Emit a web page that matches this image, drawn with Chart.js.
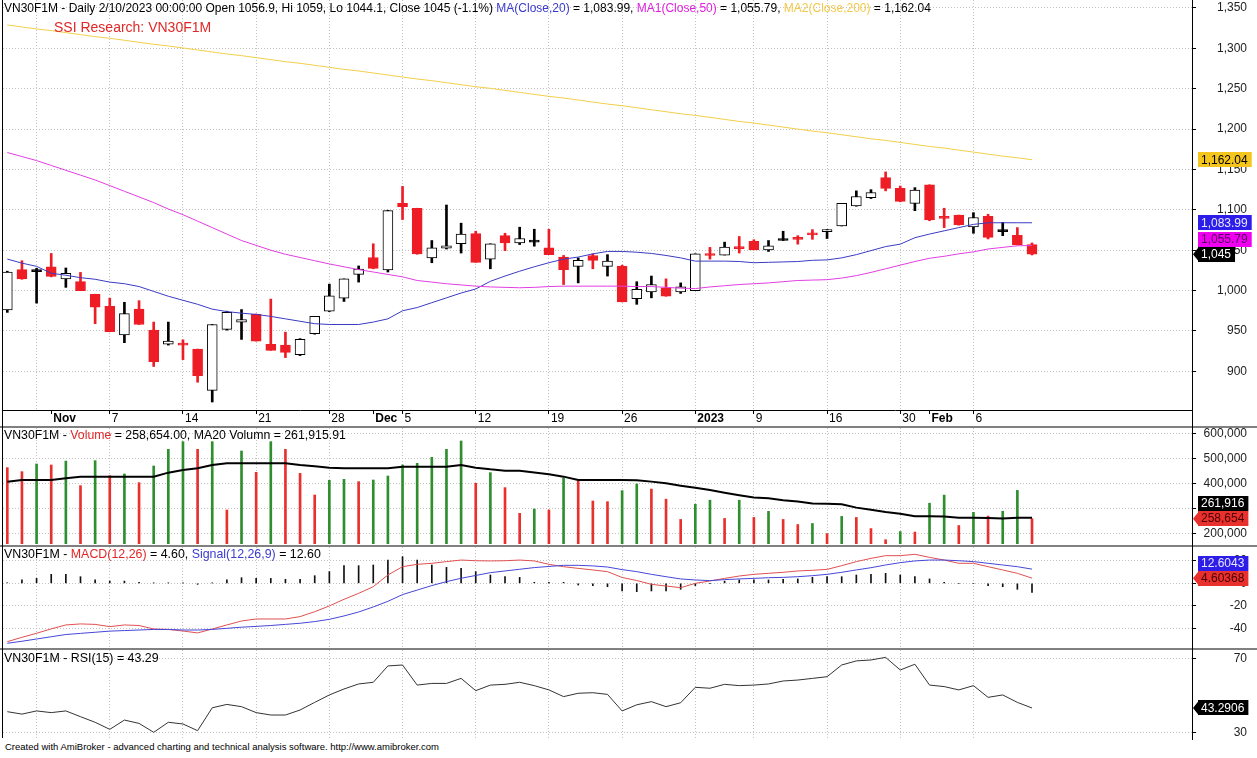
<!DOCTYPE html>
<html>
<head>
<meta charset="utf-8">
<script src="https://cdn.jsdelivr.net/npm/chart.js@4.4.0/dist/chart.umd.min.js"></script>
<style>
  body { margin:0; background:#fff; width:1257px; height:758px; overflow:hidden; position:relative;
         font-family:"Liberation Sans", Arial, sans-serif; }
  canvas { position:absolute; left:0; }
  .t { position:absolute; white-space:pre; font-size:12px; line-height:14px; color:#000; }
  .sep { position:absolute; left:0; width:1257px; height:2px; background:#808080; }
  .vl { position:absolute; width:1px; background:#000; }
</style>
</head>
<body>
<canvas id="cPrice" width="1257" height="426" style="top:0"></canvas>
<canvas id="cVol" width="1257" height="116" style="top:428px"></canvas>
<canvas id="cMacd" width="1257" height="101" style="top:547px"></canvas>
<canvas id="cRsi" width="1257" height="88" style="top:650px"></canvas>

<div class="sep" style="top:426px"></div>
<div class="sep" style="top:545px"></div>
<div class="sep" style="top:648px"></div>
<div class="vl" style="left:2px;top:0;height:738px"></div>
<div class="vl" style="left:1192px;top:0;height:740px"></div>

<div class="t" style="left:4px;top:1px">VN30F1M - Daily 2/10/2023 00:00:00 Open 1056.9, Hi 1059, Lo 1044.1, Close 1045 (-1.1%) <span style="color:#3a3ad0">MA(Close,20)</span> = 1,083.99, <span style="color:#e020e0">MA1(Close,50)</span> = 1,055.79, <span style="color:#f2c94c">MA2(Close,200)</span> = 1,162.04</div>
<div class="t" style="left:54px;top:19px;font-size:14px;line-height:16px;color:#e02828">SSI Research: VN30F1M</div>
<div class="t" style="left:4px;top:428px;font-size:12.3px">VN30F1M - <span style="color:#e02828">Volume</span> = 258,654.00, MA20 Volumn = 261,915.91</div>
<div class="t" style="left:4px;top:547px;font-size:12.4px">VN30F1M - <span style="color:#e02828">MACD(12,26)</span> = 4.60, <span style="color:#3a3ad0">Signal(12,26,9)</span> = 12.60</div>
<div class="t" style="left:4px;top:651px;font-size:12.4px">VN30F1M - RSI(15) = 43.29</div>
<div class="t" style="left:5px;top:741px;font-size:9.5px;line-height:11px">Created with AmiBroker - advanced charting and technical analysis software. http://www.amibroker.com</div>

<script>
(function(){
  const dates = ["2022-10-27","2022-10-28","2022-10-31","2022-11-01","2022-11-02","2022-11-03","2022-11-04",
    "2022-11-07","2022-11-08","2022-11-09","2022-11-10","2022-11-11","2022-11-14","2022-11-15","2022-11-16",
    "2022-11-17","2022-11-18","2022-11-21","2022-11-22","2022-11-23","2022-11-24","2022-11-25","2022-11-28",
    "2022-11-29","2022-11-30","2022-12-01","2022-12-02","2022-12-05","2022-12-06","2022-12-07","2022-12-08",
    "2022-12-09","2022-12-12","2022-12-13","2022-12-14","2022-12-15","2022-12-16","2022-12-19","2022-12-20",
    "2022-12-21","2022-12-22","2022-12-23","2022-12-26","2022-12-27","2022-12-28","2022-12-29","2022-12-30",
    "2023-01-03","2023-01-04","2023-01-05","2023-01-06","2023-01-09","2023-01-10","2023-01-11","2023-01-12",
    "2023-01-13","2023-01-16","2023-01-17","2023-01-18","2023-01-19","2023-01-27","2023-01-30","2023-01-31",
    "2023-02-01","2023-02-02","2023-02-03","2023-02-06","2023-02-07","2023-02-08","2023-02-09","2023-02-10"];

  const open = [976,1026,1023.5,1029.5,1014.5,1011,995.5,980.5,945,977,
    951,933.5,933.5,927.5,876.5,952,961,970.5,933.5,932.5,
    920.5,946.5,974.5,990.5,1020,1041,1025.5,1108,1102,1040.5,
    1052.5,1058,1070.5,1039,1068,1059,1060,1053,1041.5,1030,
    1043.5,1030,1030,990,998.5,1003.5,998.5,1000,1045.5,1044,
    1053.5,1061,1050.5,1062,1065,1070.5,1073,1080,1105,1115,
    1140,1126.5,1108,1131,1090.5,1093.5,1079,1092,1073,1068.5,
    1056.9];
  const high = [1024,1037,1027.5,1046,1028,1022.5,995.5,990.5,985.5,987.5,
    961,961,939,927.5,958,974.5,976.5,971,989.5,948.5,
    940.5,968,1008,1014.5,1030.5,1058,1099.5,1129,1102,1062,
    1106,1083.5,1073.5,1058,1071,1078.5,1076,1076,1043.5,1040.5,
    1045.5,1044.5,1031.5,1011,1018,1014.5,1009.5,1045.5,1053.5,1060,
    1067,1063,1062,1073.5,1068,1075.5,1075.5,1108,1123.5,1125,
    1147,1129.5,1127.5,1131,1102,1093.5,1096.5,1094.5,1084.5,1078,
    1059];
  const low = [973,1014,984.5,1017,1004,1000,959,949,935.5,958,
    906,932.5,914.5,886.5,862,951,939.5,937.5,926,917,
    919.5,946,974,986.5,1010.5,1027,1023,1088,1045,1034.5,
    1051.5,1046.5,1035,1027,1049.5,1057,1055,1044.5,1007.5,1009.5,
    1027,1018,986,983,991,993,996.5,1000,1039,1044,
    1046.5,1050.5,1048.5,1062,1057.5,1063.5,1064.5,1080,1104.5,1114,
    1123.5,1110,1099,1086.5,1078,1081,1071,1064,1068,1056.5,
    1044.1];
  const close = [1023,1014.5,1023.5,1017.5,1021.5,1000,979.5,949,971.5,958,
    912,937.5,932.5,894.5,958,973,964,937.5,926,923.5,
    939.5,968,993.5,1014.5,1026.5,1027.5,1099,1104,1045.5,1053,
    1055.5,1070,1035,1058,1059,1064.5,1060,1044.5,1026,1037.5,
    1037.5,1036.5,986,1001.5,1007.5,993,1004.5,1045.5,1043.5,1054,
    1052,1050.5,1055.5,1062,1063.5,1069,1075,1108,1116.5,1121.5,
    1126.5,1110.5,1124.5,1087.5,1089.5,1081.5,1090.5,1066,1073,1057,
    1045];

  const ma20 = [1039,1034,1030,1021.5,1019,1016,1014,1010.5,1008.5,1005,
    999,993,988,983,977,974,972,970.5,968,965,
    962,959,958,958,958,961,965,975,979,985,
    991,997,1002,1011.5,1018,1024,1029.5,1034.5,1039,1041.5,
    1045.5,1048.5,1048.5,1047.5,1046,1043.5,1040.5,1036.5,1036.5,1036.5,
    1036,1034.5,1035,1035.5,1036,1037.5,1038,1040.5,1044.5,1049.5,
    1054.5,1057.5,1065.5,1070,1074,1078,1082,1084,1084,1084,
    1083.99];
  const ma50 = [1171,1166,1161,1155,1149,1143,1137,1130,1123,1116,
    1109,1101,1094,1086,1078,1070,1062,1056,1050,1045,
    1041,1037,1033,1029.5,1026,1023,1020,1017,1012.5,1010.5,
    1008.5,1007,1005.5,1004.5,1004,1003.5,1004,1005,1005.5,1005.5,
    1005.5,1005.5,1005.5,1005,1005,1004,1003,1002.5,1004.5,1006,
    1007.5,1008.5,1009.5,1011,1012.5,1013,1013.5,1015.5,1018.5,1022.5,
    1027,1031.5,1036,1040,1042.5,1045.5,1048,1051.5,1053.5,1055.5,
    1055.79];
  const ma200 = [1329,1326.5,1324,1322,1319.5,1317,1314.5,1312.5,1310,1307.5,
    1305,1303,1300.5,1298,1295.5,1293,1291,1288.5,1286,1283.5,
    1281.5,1279,1276.5,1274,1272,1269.5,1267,1264.5,1262,1260,
    1257.5,1255,1252.5,1250.5,1248,1245.5,1243,1240.5,1238.5,1236,
    1233.5,1231,1229,1226.5,1224,1221.5,1219,1217,1214.5,1212,
    1209.5,1207.5,1205,1202.5,1200,1197.5,1195.5,1193,1190.5,1188,
    1186,1183.5,1181,1178.5,1176.5,1174,1171.5,1169,1166.5,1164.5,
    1162.04];

  const volume = [462700,446700,477300,473300,489000,390700,490700,430700,437300,402700,
    469300,536000,566700,536000,566700,293300,529300,444000,566700,536000,
    440000,353300,412000,416000,406700,413300,429300,473300,480000,504000,
    536000,569300,400000,442700,382700,280000,297300,293300,420000,410700,
    329300,326700,370700,397300,377000,336600,255500,316300,332500,259500,
    332500,263600,287900,255500,235200,239300,198800,267700,263600,219000,
    174400,207000,205000,320300,352800,231200,283900,269000,287900,371700,
    258654];
  const volMa20 = [406700,413000,413000,413000,420000,426700,426700,426700,426700,426700,
    426700,442700,453000,460000,473000,480000,480000,480000,480000,480000,
    473000,468000,462700,460000,460000,460000,460000,466700,466700,466700,
    466700,473000,462700,456000,450700,450000,443000,436000,426700,413000,
    413000,413000,413500,412000,406800,400000,390600,382500,373000,362000,
    352000,343300,340000,332500,327000,319000,318000,316300,302800,294700,
    285200,278500,268000,268000,267700,262000,262000,261000,259000,262000,
    261915.91];

  const macd = [-51.9,-48,-44.4,-40.5,-37,-36.1,-36.5,-38.5,-37,-37.5,
    -40.6,-41,-42.4,-44.1,-40.6,-37,-33.5,-31.7,-31.7,-31.7,
    -29.6,-25.2,-20.1,-14.2,-8.9,-3,7.4,14.8,16.9,17.8,
    19.3,20.7,20.1,19.9,20.1,20.7,19.9,16.9,14.8,13.3,
    11.9,10.4,5.2,2.5,-0.9,-2.4,-3.9,0,2.1,4.4,
    6.5,8,8.9,9.8,11,11.6,12.4,15.7,19.3,22.2,
    24.6,24.6,25.8,23.1,20.7,17.8,17.8,14.8,11.9,8.9,
    4.60368];
  const signal = [-53.3,-51.5,-49.5,-47.5,-45.5,-44.5,-43.5,-42.5,-42,-41.5,
    -41,-41,-41.5,-41.5,-41,-40,-39,-38.3,-37.5,-36.5,
    -35.5,-34,-32,-29,-25.5,-21,-16,-10,-6,-2,
    1.5,4.5,7,9.5,11,12.5,14,15,16,16,
    15.5,14.5,12.2,10.4,8,5.9,3.9,3,2.4,3.3,
    3.9,4.4,5,5.3,5.9,6.8,8,9.8,11.9,13.9,
    16.3,18.4,19.9,20.7,20.7,20.1,19.3,17.8,16.3,14.8,
    12.6043];
  const macdHist = [0.5,3,4.4,8,8,5.9,3,2,2,0.9,
    0.3,0.3,0.3,-0.9,0.3,3,5,4.4,4.4,3.6,
    3.6,6.8,10.4,15.7,15.7,16.3,20.7,23.7,20.7,16.3,
    14.2,13.3,10.4,7.4,5.9,5.3,0.9,0.9,0.9,-1.5,
    -2,-3,-6.8,-7.4,-6.8,-6.8,-5.3,-2,0,2,
    3,3,3,3.6,3.9,5.3,5.9,5.9,7.4,8,
    8.9,7.4,5.9,3.9,0.9,0,0,-2,-3,-5.3,
    -8];
  const rsi = [41.3,40,41.7,40.8,41.7,38.6,35.6,31.8,36.8,35,
    30.2,35.6,34.7,31.1,43.4,45.2,44,40.8,39.5,39.5,
    42.2,46.3,50.3,53.5,56.2,57.1,65.9,66.4,55.6,56.5,
    56.5,59.2,52.6,55.6,56,57.1,55.3,53,49.4,51.2,
    51.5,50.6,41.7,45,46.7,44,46.1,54.4,53.9,56,
    55.3,55.6,56.2,57.8,58.3,59.2,60.1,66.4,68.6,69.1,
    70.5,63.7,66.8,55.6,54.8,53,55.3,49,50.3,46.3,
    43.2906];

  // date axis: labelled bars, month starts (bold) and weekly grid bars
  const tickIdx  = [3,7,12,17,22,25,27,32,37,42,47,51,56,61,63,66];
  const tickText = ["Nov","7","14","21","28","Dec","5","12","19","26","2023","9","16","30","Feb","6"];
  const monthIdx = [3,25,47,63];
  const gridIdx  = [2,7,12,17,22,27,32,37,42,47,51,56,61,66];

  const priceTicks = [900,950,1000,1050,1100,1150,1200,1250,1300,1350];
  const volTicks = [200000,300000,400000,500000,600000];
  const macdTicks = [-40,-20,0,20];
  const rsiTicks = [30,70];

  const FONT = '"Liberation Sans", Arial, sans-serif';
  const GRID = "#c2c2c2";
  const RED = "#ee1c24";
  const X_MIN = -0.294, X_MAX = 80.93;

  Chart.defaults.font.family = FONT;
  Chart.defaults.font.size = 12;
  Chart.defaults.color = "#000";

  const xy = arr => arr.map((v,i) => ({x:i, y:v}));
  const fmt6 = v => Number(v.toPrecision(6)).toLocaleString("en-US", {maximumFractionDigits:6});
  const last = arr => arr[arr.length-1];
  const noPad = s => { s.paddingTop = 0; s.paddingBottom = 0; s.paddingLeft = 0; s.paddingRight = 0; };

  const allTicks = Array.from(new Set(tickIdx.concat(gridIdx))).sort((a,b)=>a-b);

  function xScale(showLabels){
    return {
      type:"linear", position:"bottom", min:X_MIN, max:X_MAX, offset:false,
      afterBuildTicks(s){ s.ticks = allTicks.map(v => ({value:v})); },
      afterFit(s){ s.height = showLabels ? 16 : 0; noPad(s); },
      grid:{
        offset:false,
        color: c => (c.tick && gridIdx.includes(c.tick.value)) ? GRID : "rgba(0,0,0,0)",
        drawTicks: showLabels, tickLength:4,
        tickColor: c => (c.tick && tickIdx.includes(c.tick.value)) ? "#000" : "rgba(0,0,0,0)"
      },
      border:{ display:showLabels, color:"#000", dash:[1,2] },
      ticks:{
        display:showLabels, autoSkip:false, maxRotation:0, align:"start", labelOffset:2, padding:-3,
        callback: v => { const k = tickIdx.indexOf(v); return k < 0 ? "" : tickText[k]; },
        font: c => ({ family:FONT, size:12, weight:(c.tick && monthIdx.includes(c.tick.value)) ? "bold" : "normal" })
      }
    };
  }

  function yScale(min, max, ticks){
    return {
      type:"linear", position:"right", min, max,
      afterBuildTicks(s){ s.ticks = ticks.map(v => ({value:v})); },
      afterFit(s){ s.width = 55; noPad(s); },
      grid:{ color:GRID, tickColor:"#000", tickLength:4 },
      border:{ color:"#000", dash:[1,2] },
      ticks:{ color:"#222", padding:4, crossAlign:"far", callback: v => v.toLocaleString("en-US") }
    };
  }

  // last-value boxes on the right axis, shifted apart when they overlap
  const lastValPlugin = {
    id:"lastVal",
    afterDraw(chart, args, opts){
      const ctx = chart.ctx, ys = chart.scales.y, right = chart.chartArea.right;
      const H = 15;
      const items = opts.items.map(it => Object.assign({}, it, {py: ys.getPixelForValue(it.value)}));
      const placed = items.filter(it => it.arrow);
      items.filter(it => !it.arrow).forEach(it => {
        for (let n = 0; n < 4; n++){
          placed.forEach(p => {
            if (Math.abs(it.py - p.py) < H) it.py = it.py < p.py ? p.py - H : p.py + H;
          });
        }
        placed.push(it);
      });
      ctx.save();
      ctx.font = "12px " + FONT;
      ctx.textBaseline = "middle";
      placed.forEach(it => {
        const text = fmt6(it.value);
        const w = ctx.measureText(text).width + 7;
        const x0 = right + 6;
        ctx.fillStyle = it.bg;
        ctx.fillRect(x0, Math.round(it.py - H/2), w, H);
        if (it.arrow){
          ctx.beginPath();
          ctx.moveTo(right + 1, it.py);
          ctx.lineTo(x0 + 1, it.py - H/2);
          ctx.lineTo(x0 + 1, it.py + H/2);
          ctx.closePath();
          ctx.fill();
        }
        ctx.fillStyle = it.fg;
        ctx.fillText(text, x0 + 3, it.py + 0.5);
      });
      ctx.restore();
    }
  };

  function baseOptions(x, y, items){
    return {
      responsive:false, animation:false, events:[],
      layout:{ padding:{ left:3, right:10, top:0, bottom:0 }, autoPadding:false },
      plugins:{ legend:{display:false}, tooltip:{enabled:false}, lastVal:{ items } },
      scales:{ x, y }
    };
  }

  function lineDs(data, color, width){
    return { type:"line", data:xy(data), borderColor:color, borderWidth:width, pointRadius:0, tension:0, order:0 };
  }

  // price pane
  const dir = close.map((c,i) => c > open[i] ? 1 : (c < open[i] ? -1 : 0));
  new Chart(document.getElementById("cPrice"), {
    type:"bar",
    data:{ datasets:[
      { data: low.map((l,i) => ({x:i, y:[l, high[i]]})), barThickness:2, grouped:false, order:3,
        backgroundColor: dir.map(d => d < 0 ? RED : "#000") },
      { data: open.map((o,i) => ({x:i, y:[o, close[i]]})), barThickness:10, grouped:false, order:2,
        minBarLength:2, borderSkipped:false, borderWidth:1,
        backgroundColor: dir.map(d => d > 0 ? "#fff" : (d < 0 ? RED : "#000")),
        borderColor: dir.map(d => d < 0 ? RED : "#000") },
      lineDs(ma200, "#f2cf4a", 1),
      lineDs(ma50, "#e23ee2", 1),
      lineDs(ma20, "#3b3bc4", 1)
    ]},
    options: baseOptions(xScale(true), yScale(852.1, 1359.9, priceTicks), [
      { value:last(ma200), bg:"#f4c51d", fg:"#000" },
      { value:last(ma20), bg:"#2d1de8", fg:"#e8e8ff" },
      { value:last(ma50), bg:"#f000f0", fg:"#5a005a" },
      { value:last(close), bg:"#000", fg:"#fff", arrow:true }
    ]),
    plugins:[lastValPlugin]
  });

  // volume pane
  new Chart(document.getElementById("cVol"), {
    type:"bar",
    data:{ datasets:[
      { data:xy(volume), barThickness:2, grouped:false, order:2,
        backgroundColor: volume.map((v,i) => (i > 0 && v > volume[i-1]) ? "#2f8f2f" : "#e8302c") },
      lineDs(volMa20, "#000", 2)
    ]},
    options: baseOptions(xScale(false), yScale(157300, 621300, volTicks), [
      { value:last(volMa20), bg:"#000", fg:"#fff" },
      { value:last(volume), bg:"#e8302c", fg:"#4a0000", arrow:true }
    ]),
    plugins:[lastValPlugin]
  });

  // MACD pane
  new Chart(document.getElementById("cMacd"), {
    type:"bar",
    data:{ datasets:[
      { data:xy(macdHist), barThickness:1, grouped:false, order:2, backgroundColor:"#111" },
      lineDs(signal, "#4646d8", 1),
      lineDs(macd, "#e05050", 1)
    ]},
    options: baseOptions(xScale(false), yScale(-57.5, 32.3, macdTicks), [
      { value:last(signal), bg:"#2d1de8", fg:"#e8e8ff" },
      { value:last(macd), bg:"#e8302c", fg:"#4a0000", arrow:true }
    ]),
    plugins:[lastValPlugin]
  });

  // RSI pane
  new Chart(document.getElementById("cRsi"), {
    type:"line",
    data:{ datasets:[ lineDs(rsi, "#333", 1) ]},
    options: baseOptions(xScale(false), yScale(27.15, 74.46, rsiTicks), [
      { value:last(rsi), bg:"#000", fg:"#fff", arrow:true }
    ]),
    plugins:[lastValPlugin]
  });
})();
</script>
</body>
</html>
